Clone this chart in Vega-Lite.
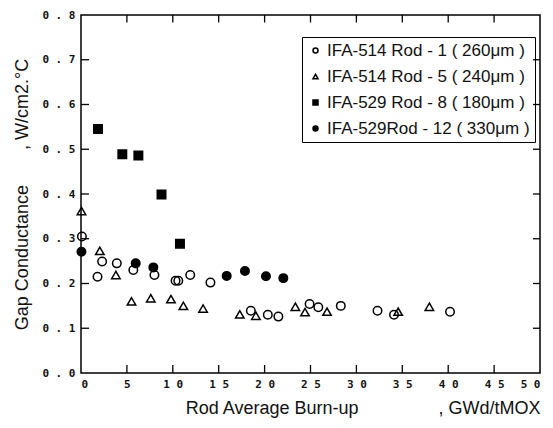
{
  "$schema": "https://vega.github.io/schema/vega-lite/v6.json",
  "autosize": "none",
  "width": 459,
  "height": 358,
  "padding": {"left": 81, "top": 15, "right": 13, "bottom": 55},
  "background": "white",
  "config": {
    "view": {"stroke": "black", "strokeWidth": 1.5},
    "axis": {"grid": false, "labelColor": "#111", "titleColor": "#111"}
  },
  "datasets": {
    "xticks": [{"t": 5}, {"t": 10}, {"t": 15}, {"t": 20}, {"t": 25}, {"t": 30}, {"t": 35}, {"t": 40}, {"t": 45}],
    "yticks": [{"t": 0.1}, {"t": 0.2}, {"t": 0.3}, {"t": 0.4}, {"t": 0.5}, {"t": 0.6}, {"t": 0.7}]
  },
  "data": {"values": [
    {"burnup": 0.1, "gap": 0.305, "rod": "IFA-514 Rod - 1 ( 260μm )"},
    {"burnup": 1.8, "gap": 0.215, "rod": "IFA-514 Rod - 1 ( 260μm )"},
    {"burnup": 2.3, "gap": 0.249, "rod": "IFA-514 Rod - 1 ( 260μm )"},
    {"burnup": 3.9, "gap": 0.245, "rod": "IFA-514 Rod - 1 ( 260μm )"},
    {"burnup": 5.7, "gap": 0.23, "rod": "IFA-514 Rod - 1 ( 260μm )"},
    {"burnup": 8.0, "gap": 0.219, "rod": "IFA-514 Rod - 1 ( 260μm )"},
    {"burnup": 10.3, "gap": 0.206, "rod": "IFA-514 Rod - 1 ( 260μm )"},
    {"burnup": 10.6, "gap": 0.206, "rod": "IFA-514 Rod - 1 ( 260μm )"},
    {"burnup": 11.9, "gap": 0.219, "rod": "IFA-514 Rod - 1 ( 260μm )"},
    {"burnup": 14.1, "gap": 0.202, "rod": "IFA-514 Rod - 1 ( 260μm )"},
    {"burnup": 18.5, "gap": 0.139, "rod": "IFA-514 Rod - 1 ( 260μm )"},
    {"burnup": 20.35, "gap": 0.13, "rod": "IFA-514 Rod - 1 ( 260μm )"},
    {"burnup": 21.5, "gap": 0.126, "rod": "IFA-514 Rod - 1 ( 260μm )"},
    {"burnup": 24.9, "gap": 0.154, "rod": "IFA-514 Rod - 1 ( 260μm )"},
    {"burnup": 25.85, "gap": 0.147, "rod": "IFA-514 Rod - 1 ( 260μm )"},
    {"burnup": 28.3, "gap": 0.15, "rod": "IFA-514 Rod - 1 ( 260μm )"},
    {"burnup": 32.3, "gap": 0.139, "rod": "IFA-514 Rod - 1 ( 260μm )"},
    {"burnup": 34.1, "gap": 0.13, "rod": "IFA-514 Rod - 1 ( 260μm )"},
    {"burnup": 40.2, "gap": 0.137, "rod": "IFA-514 Rod - 1 ( 260μm )"},
    {"burnup": 0.05, "gap": 0.362, "rod": "IFA-514 Rod - 5 ( 240μm )"},
    {"burnup": 2.05, "gap": 0.273, "rod": "IFA-514 Rod - 5 ( 240μm )"},
    {"burnup": 3.8, "gap": 0.219, "rod": "IFA-514 Rod - 5 ( 240μm )"},
    {"burnup": 5.5, "gap": 0.16, "rod": "IFA-514 Rod - 5 ( 240μm )"},
    {"burnup": 7.6, "gap": 0.167, "rod": "IFA-514 Rod - 5 ( 240μm )"},
    {"burnup": 9.8, "gap": 0.165, "rod": "IFA-514 Rod - 5 ( 240μm )"},
    {"burnup": 11.15, "gap": 0.15, "rod": "IFA-514 Rod - 5 ( 240μm )"},
    {"burnup": 13.3, "gap": 0.144, "rod": "IFA-514 Rod - 5 ( 240μm )"},
    {"burnup": 17.3, "gap": 0.131, "rod": "IFA-514 Rod - 5 ( 240μm )"},
    {"burnup": 19.05, "gap": 0.128, "rod": "IFA-514 Rod - 5 ( 240μm )"},
    {"burnup": 23.35, "gap": 0.148, "rod": "IFA-514 Rod - 5 ( 240μm )"},
    {"burnup": 24.4, "gap": 0.136, "rod": "IFA-514 Rod - 5 ( 240μm )"},
    {"burnup": 26.8, "gap": 0.137, "rod": "IFA-514 Rod - 5 ( 240μm )"},
    {"burnup": 34.55, "gap": 0.137, "rod": "IFA-514 Rod - 5 ( 240μm )"},
    {"burnup": 37.95, "gap": 0.148, "rod": "IFA-514 Rod - 5 ( 240μm )"},
    {"burnup": 1.85, "gap": 0.545, "rod": "IFA-529 Rod - 8 ( 180μm )"},
    {"burnup": 4.5, "gap": 0.489, "rod": "IFA-529 Rod - 8 ( 180μm )"},
    {"burnup": 6.25, "gap": 0.486, "rod": "IFA-529 Rod - 8 ( 180μm )"},
    {"burnup": 8.77, "gap": 0.399, "rod": "IFA-529 Rod - 8 ( 180μm )"},
    {"burnup": 10.78, "gap": 0.289, "rod": "IFA-529 Rod - 8 ( 180μm )"},
    {"burnup": 0.05, "gap": 0.271, "rod": "IFA-529Rod - 12 ( 330μm )"},
    {"burnup": 5.96, "gap": 0.245, "rod": "IFA-529Rod - 12 ( 330μm )"},
    {"burnup": 7.88, "gap": 0.236, "rod": "IFA-529Rod - 12 ( 330μm )"},
    {"burnup": 15.87, "gap": 0.217, "rod": "IFA-529Rod - 12 ( 330μm )"},
    {"burnup": 17.86, "gap": 0.228, "rod": "IFA-529Rod - 12 ( 330μm )"},
    {"burnup": 20.15, "gap": 0.216, "rod": "IFA-529Rod - 12 ( 330μm )"},
    {"burnup": 22.04, "gap": 0.212, "rod": "IFA-529Rod - 12 ( 330μm )"}
  ]},
  "layer": [
    {
      "mark": {"type": "point", "filled": true, "stroke": "black", "strokeWidth": 1.5, "size": 72, "opacity": 1},
      "encoding": {
        "x": {"field": "burnup", "type": "quantitative",
          "scale": {"domain": [0, 50], "nice": false, "zero": false},
          "axis": {"orient": "bottom", "values": [0,5,10,15,20,25,30,35,40,45,50], "ticks": false, "domain": false,
            "labelFont": "DejaVu Sans Mono", "labelFontSize": 11, "labelFontWeight": "bold", "labelPadding": 5,
            "labelExpr": "datum.value >= 10 ? slice(datum.label,0,1) + ' ' + slice(datum.label,1) : datum.label",
            "title": "Rod Average Burn-up\u00a0\u00a0\u00a0\u00a0\u00a0\u00a0\u00a0\u00a0\u00a0\u00a0\u00a0\u00a0\u00a0\u00a0\u00a0\u00a0, GWd/tMOX",
            "titleFont": "Liberation Sans", "titleFontSize": 18, "titleFontWeight": "normal", "titleAnchor": "end", "titlePadding": 10}},
        "y": {"field": "gap", "type": "quantitative",
          "scale": {"domain": [0, 0.8], "nice": false, "zero": false},
          "axis": {"orient": "left", "values": [0,0.1,0.2,0.3,0.4,0.5,0.6,0.7,0.8], "ticks": false, "domain": false,
            "format": ".1f", "labelExpr": "replace(datum.label, '.', ' . ')",
            "labelFont": "DejaVu Sans Mono", "labelFontSize": 11, "labelFontWeight": "bold", "labelPadding": 6,
            "title": "Gap Conductance\u00a0\u00a0\u00a0\u00a0\u00a0\u00a0\u00a0, W/cm2.°C",
            "titleFont": "Liberation Sans", "titleFontSize": 18, "titleFontWeight": "normal", "titlePadding": 10}},
        "shape": {"field": "rod", "type": "nominal",
          "scale": {"domain": ["IFA-514 Rod - 1 ( 260μm )", "IFA-514 Rod - 5 ( 240μm )", "IFA-529 Rod - 8 ( 180μm )", "IFA-529Rod - 12 ( 330μm )"],
                    "range": ["circle", "triangle-up", "square", "circle"]},
          "legend": {"title": null, "orient": "none", "legendX": 221, "legendY": 22, "strokeColor": "black",
            "padding": 5, "rowPadding": 8, "labelFont": "Liberation Sans", "labelFontSize": 17, "labelColor": "#111", "labelLimit": 300,
            "symbolSize": 25, "symbolOffset": 0, "labelOffset": 3,
            "encode": {"symbols": {"update": {"stroke": {"value": "black"}, "strokeWidth": {"value": 1.2}}},
                       "legend": {"update": {"strokeWidth": {"value": 1.2}}}}}},
        "fill": {"field": "rod", "type": "nominal",
          "scale": {"domain": ["IFA-514 Rod - 1 ( 260μm )", "IFA-514 Rod - 5 ( 240μm )", "IFA-529 Rod - 8 ( 180μm )", "IFA-529Rod - 12 ( 330μm )"],
                    "range": ["transparent", "transparent", "black", "black"]},
          "legend": {"title": null, "orient": "none", "legendX": 221, "legendY": 22}}
      }
    },
    {
      "data": {"name": "xticks"},
      "mark": {"type": "point", "shape": "M0,0V-2", "size": 64, "filled": false, "stroke": "black", "strokeWidth": 1.3, "opacity": 1},
      "encoding": {
        "x": {"field": "t", "type": "quantitative"},
        "y": {"datum": 0, "type": "quantitative"}
      }
    },
    {
      "data": {"name": "xticks"},
      "mark": {"type": "point", "shape": "M0,0V2", "size": 56, "filled": false, "stroke": "black", "strokeWidth": 1.3, "opacity": 1},
      "encoding": {
        "x": {"field": "t", "type": "quantitative"},
        "y": {"datum": 0.8, "type": "quantitative"}
      }
    },
    {
      "data": {"name": "yticks"},
      "mark": {"type": "point", "shape": "M0,0H2", "size": 64, "filled": false, "stroke": "black", "strokeWidth": 1.3, "opacity": 1},
      "encoding": {
        "y": {"field": "t", "type": "quantitative"},
        "x": {"datum": 0, "type": "quantitative"}
      }
    },
    {
      "data": {"name": "yticks"},
      "mark": {"type": "point", "shape": "M0,0H-2", "size": 49, "filled": false, "stroke": "black", "strokeWidth": 1.3, "opacity": 1},
      "encoding": {
        "y": {"field": "t", "type": "quantitative"},
        "x": {"datum": 50, "type": "quantitative"}
      }
    }
  ]
}
